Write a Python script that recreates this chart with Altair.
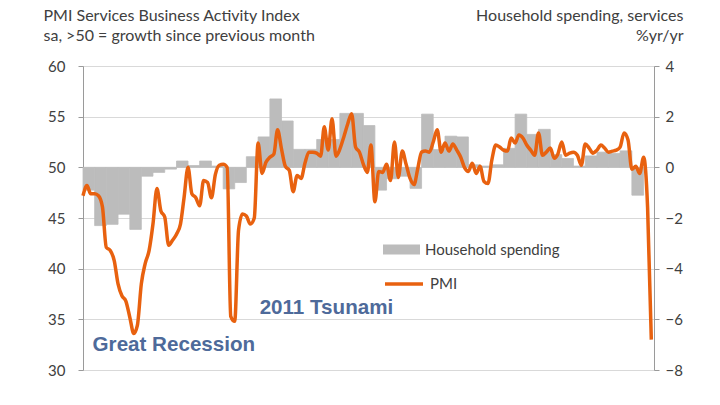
import altair as alt
import pandas as pd

# Monthly PMI Services Business Activity Index, Jan 2008 - Mar 2020
pmi = [
    47.2, 48.2, 47.4, 47.4, 47.2, 46.1, 42.1, 41.8, 40.8, 38.5, 37.3, 36.8,
    35.2, 33.6, 34.4, 38.5, 40.5, 41.8, 44.4, 47.9, 45.7, 45.1, 42.3, 42.8,
    43.4, 44.4, 47.0, 50.0, 47.4, 47.0, 46.2, 48.7, 48.5, 47.0, 49.3, 50.2,
    50.3, 50.0, 35.3, 34.8, 43.8, 45.4, 45.2, 44.4, 45.0, 52.4, 49.4, 50.5,
    51.0, 51.3, 53.7, 51.8, 50.1, 49.7, 47.6, 49.2, 48.9, 50.4, 51.5, 51.5,
    51.4, 51.1, 54.0, 51.7, 54.8, 51.1, 51.8, 53.0, 54.3, 55.3, 52.0, 51.5,
    50.3, 49.5, 52.2, 46.6, 49.6, 49.5, 50.3, 48.7, 52.5, 49.0, 51.6, 50.3,
    48.9, 48.3, 49.8, 51.5, 51.6, 51.5, 52.5, 53.7, 51.5, 52.4, 51.6, 52.3,
    51.7, 51.0, 50.0, 49.6, 50.4, 49.4, 50.1, 48.6, 48.4, 50.7, 52.2, 52.0,
    51.7, 51.6, 52.9, 52.4, 53.2, 52.9, 52.2, 51.7, 51.2, 53.4, 51.2, 51.5,
    51.9, 50.9, 51.3, 52.5, 51.2, 51.4, 51.5, 51.2, 50.2, 52.3, 51.9, 51.4,
    51.7, 52.2, 51.9, 51.5, 51.6, 51.7, 52.0, 53.4, 52.7, 49.8, 50.1, 49.4,
    51.0, 46.0, 33.0,
]

# Quarterly household spending on services, %yr/yr, Q1 2008 - Q4 2019
spending = [
    -0.9, -2.3, -2.25, -1.85,
    -2.45, -0.35, -0.2, -0.07,
    0.25, 0.07, 0.25, 0.05,
    -0.85, -0.6, 0.42, 1.2,
    2.7, 1.83, 0.71, 0.71,
    1.1, 1.1, 2.13, 2.13,
    1.65, -0.9, -0.45, -0.35,
    -0.83, 2.1, 0.7, 1.23,
    1.2, 0.1, 0.05, 0.1,
    0.75, 2.1, 1.3, 1.5,
    0.5, 0.35, 0.05, 0.45,
    0.6, 0.55, 0.65, -1.1,
]

years = list(range(2008, 2021))
left_ticks = [30, 35, 40, 45, 50, 55, 60]
right_ticks = [-8, -6, -4, -2, 0, 2, 4]

ann_labels = ["2011 Tsunami", "Great Recession"]
ann_dates = ["2011-10-13", "2008-03-16"]
ann_values = [36.1, 32.45]


def iso(d):
    return d.strftime("%Y-%m-%dT00:00:00Z")


pmi_dates = pd.date_range("2008-01-01", periods=len(pmi), freq="MS")
q_start = pd.date_range("2008-01-01", periods=len(spending), freq="QS")
q_end = q_start + pd.DateOffset(months=3)

line_df = pd.DataFrame({"date": [iso(d) for d in pmi_dates], "pmi": pmi, "series": "PMI"})
bar_df = pd.DataFrame({
    "start": [iso(d) for d in q_start],
    "end": [iso(d) for d in q_end],
    "value": spending,
    "series": "Household spending",
})
ann_df = pd.DataFrame({
    "label": ann_labels,
    "date": [d + "T00:00:00Z" for d in ann_dates],
    "value": ann_values,
})

FONT = "Lato"
TXT = "#404040"
AX = "#9a9a9a"
BAR = "#bcbcbc"

xscale = alt.Scale(
    type="utc",
    domain=[alt.DateTime(year=2008, month=1, date=1, utc=True),
            alt.DateTime(year=2020, month=3, date=22, utc=True)],
)
xaxis = alt.Axis(
    values=[alt.DateTime(year=y, month=1, date=1, utc=True) for y in years],
    format="'%y", formatType="utc", title=None, grid=False,
    domainColor=AX, tickColor=AX, tickSize=5, labelPadding=4,
    labelFont=FONT, labelFontSize=15, labelColor=TXT, labelFlush=False,
)

bars = alt.Chart(bar_df).mark_bar(stroke=BAR, strokeWidth=0.8).encode(
    x=alt.X("start:T", scale=xscale, axis=None),
    x2="end:T",
    y=alt.Y("value:Q", scale=alt.Scale(domain=[-8, 4], nice=False, zero=False),
            axis=alt.Axis(orient="right", values=right_ticks, grid=False,
                          domainColor=AX, tickColor=AX, tickSize=5, labelPadding=6,
                          labelFont=FONT, labelFontSize=15, labelColor=TXT,
                          title=["Household spending, services", "%yr/yr"],
                          titleAngle=0, titleAlign="right", titleBaseline="alphabetic",
                          titleX=29, titleY=-45.5, titleFont=FONT, titleFontSize=16,
                          titleFontWeight="normal", titleColor=TXT, titleLineHeight=20)),
    y2=alt.datum(0),
    fill=alt.Fill("series:N", scale=alt.Scale(range=[BAR]),
                  legend=alt.Legend(orient="none", legendX=300, legendY=165, title=None,
                                    symbolType="M-1,-0.27L1,-0.27L1,0.27L-1,0.27Z",
                                    symbolSize=1369, symbolStrokeWidth=0,
                                    labelFont=FONT, labelFontSize=15, labelColor=TXT,
                                    labelOffset=5, padding=0)),
)

line = alt.Chart(line_df).mark_line(strokeWidth=3.5, interpolate="monotone").encode(
    x=alt.X("date:T", scale=xscale, axis=xaxis),
    y=alt.Y("pmi:Q", scale=alt.Scale(domain=[30, 60], nice=False, zero=False),
            axis=alt.Axis(orient="left", values=left_ticks, grid=True, gridColor="#d9d9d9",
                          domainColor=AX, tickColor=AX, tickSize=5, labelPadding=13,
                          labelFont=FONT, labelFontSize=15, labelColor=TXT,
                          title=["PMI Services Business Activity Index",
                                 "sa, >50 = growth since previous month"],
                          titleAngle=0, titleAlign="left", titleBaseline="alphabetic",
                          titleX=-40, titleY=-45.5, titleFont=FONT, titleFontSize=16,
                          titleFontWeight="normal", titleColor=TXT, titleLineHeight=20)),
    stroke=alt.Stroke("series:N", scale=alt.Scale(range=["#e8610f"]),
                      legend=alt.Legend(orient="none", legendX=300, legendY=197, title=None,
                                        symbolType="stroke", symbolSize=1444,
                                        symbolStrokeWidth=3.5,
                                        labelFont=FONT, labelFontSize=15, labelColor=TXT,
                                        labelOffset=5, padding=0)),
)

ann = alt.Chart(ann_df).mark_text(
    align="left", baseline="middle", font="Liberation Sans", fontSize=20.6,
    fontWeight="bold", color="#4e6a9a",
).encode(
    x=alt.X("date:T", scale=xscale, axis=None),
    y=alt.Y("value:Q", scale=alt.Scale(domain=[30, 60], nice=False, zero=False), axis=None),
    text="label:N",
)

chart = alt.layer(bars, line, ann).resolve_scale(
    y="independent"
).properties(
    width=571, height=304,
    autosize=alt.AutoSizeParams(type="none"),
    padding={"left": 75, "top": 58, "right": 58, "bottom": 25},
).configure_view(stroke=None).configure(background="white")

chart.save("out.html", embed_options={"renderer": "svg", "actions": False})
